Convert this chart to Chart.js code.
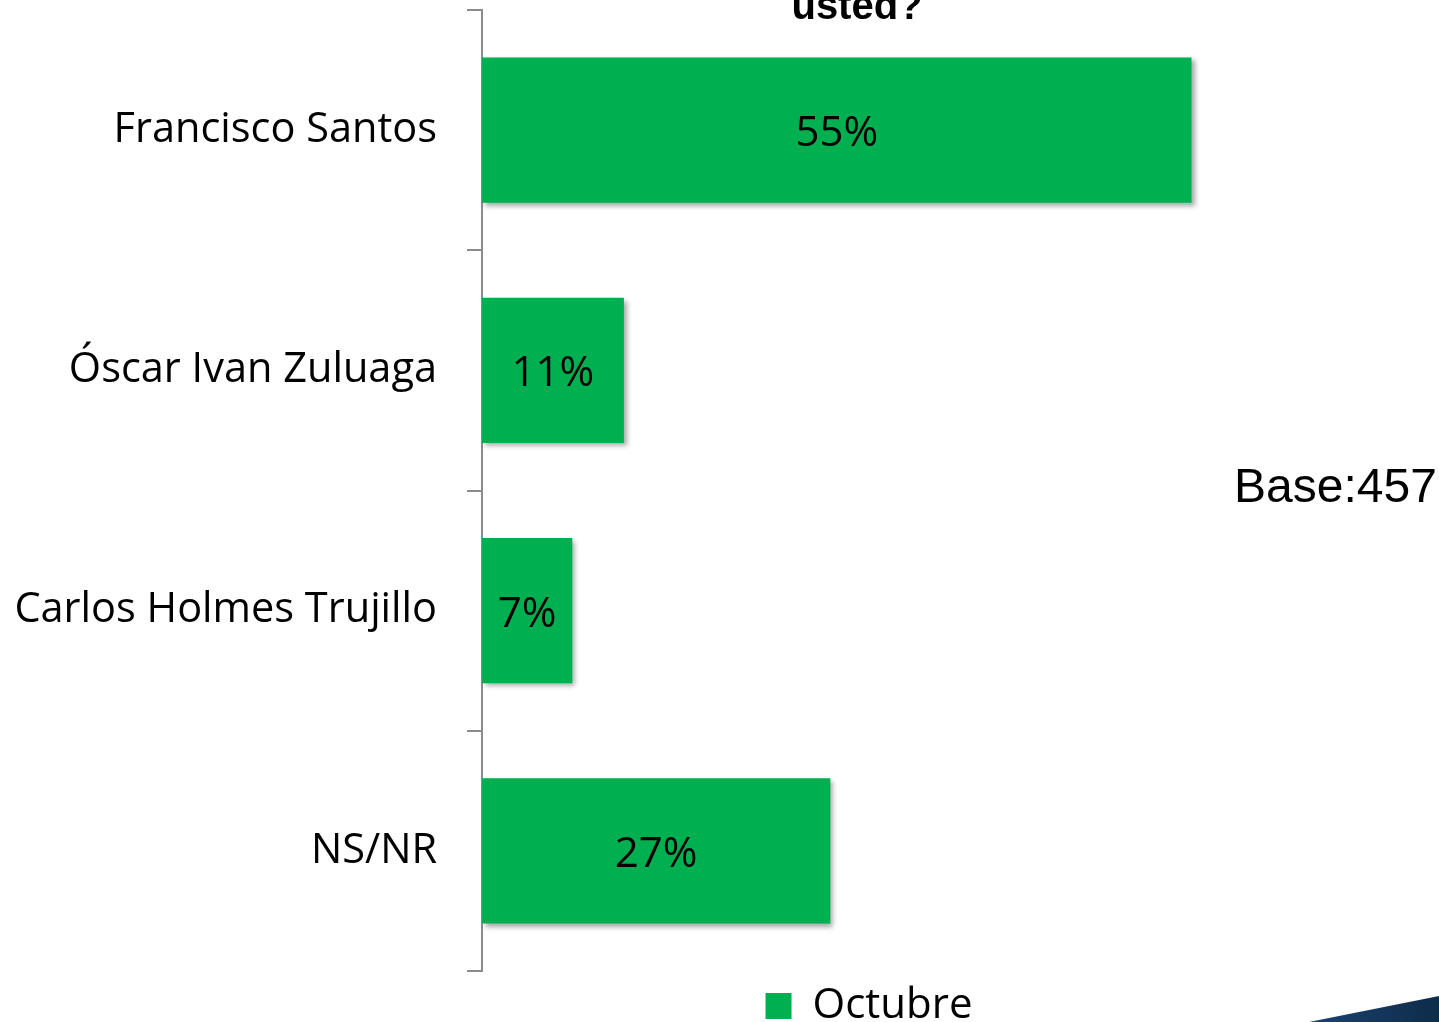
<!DOCTYPE html>
<html>
<head>
<meta charset="utf-8">
<script src="https://cdn.jsdelivr.net/npm/chart.js@4/dist/chart.umd.min.js"></script>
<style>
  html, body { margin: 0; padding: 0; background: #fff; }
  #wrap { width: 1439px; height: 1022px; position: relative; }
</style>
</head>
<body>
<div id="wrap"><canvas id="chart"></canvas></div>
<script>
// chart data
const categories = ['Francisco Santos', 'Óscar Ivan Zuluaga', 'Carlos Holmes Trujillo', 'NS/NR'];
const octubre = [55, 11, 7, 27];
const seriesName = 'Octubre';
const titleText = 'usted?';
const baseText = 'Base:457';

const GREEN = '#00b050';
const LABEL_FONT = '"Open Sans", sans-serif';

// soft shadow under the bars
const barShadow = {
    id: 'barShadow',
    beforeDatasetsDraw(chart) {
        const ctx = chart.ctx;
        ctx.save();
        ctx.shadowColor = 'rgba(0,0,0,0.35)';
        ctx.shadowBlur = 5;
        ctx.shadowOffsetX = 3;
        ctx.shadowOffsetY = 3;
    },
    afterDatasetsDraw(chart) {
        chart.ctx.restore();
    }
};

// values inside the bars, title, base note and corner wedge
const extras = {
    id: 'extras',
    afterDatasetsDraw(chart) {
        const ctx = chart.ctx;
        const meta = chart.getDatasetMeta(0);
        ctx.save();
        ctx.fillStyle = '#000';
        ctx.font = '42px ' + LABEL_FONT;
        ctx.textAlign = 'center';
        ctx.textBaseline = 'middle';
        meta.data.forEach(function (bar, i) {
            const x = (bar.base + bar.x) / 2;
            ctx.fillText(octubre[i] + '%', x, bar.y + 4);
        });

        ctx.font = 'bold 40px "Liberation Sans", Arial, sans-serif';
        ctx.textBaseline = 'alphabetic';
        ctx.fillText(titleText, 857, 19);

        ctx.font = '48px "Liberation Sans", Arial, sans-serif';
        ctx.textAlign = 'left';
        ctx.fillText(baseText, 1234, 502);

        const w = chart.width, h = chart.height;
        const grad = ctx.createLinearGradient(w - 130, 0, w, 0);
        grad.addColorStop(0, '#1a4270');
        grad.addColorStop(1, '#0e2c4a');
        ctx.fillStyle = grad;
        ctx.beginPath();
        ctx.moveTo(w - 130, h);
        ctx.lineTo(w, h - 26);
        ctx.lineTo(w, h);
        ctx.closePath();
        ctx.fill();
        ctx.restore();
    }
};

new Chart(document.getElementById('chart'), {
    type: 'bar',
    data: {
        labels: categories,
        datasets: [{
            label: seriesName,
            data: octubre,
            backgroundColor: GREEN,
            borderWidth: 0,
            categoryPercentage: 1,
            barPercentage: 0.605
        }]
    },
    options: {
        indexAxis: 'y',
        responsive: true,
        maintainAspectRatio: false,
        animation: false,
        layout: {
            padding: { left: 0, right: 183, top: 10, bottom: -15 }
        },
        plugins: {
            legend: {
                position: 'bottom',
                fullSize: false,
                labels: {
                    boxWidth: 26,
                    boxHeight: 26,
                    padding: 14,
                    color: '#000',
                    font: { family: LABEL_FONT, size: 42 }
                }
            },
            title: { display: false },
            tooltip: { enabled: false }
        },
        scales: {
            x: {
                display: false,
                min: 0,
                max: 60
            },
            y: {
                afterFit: function (scale) {
                    scale.width = 482;
                    scale.paddingTop = 0;
                    scale.paddingBottom = 0;
                },
                border: { display: true, color: '#8c8c8c', width: 2 },
                grid: {
                    drawOnChartArea: false,
                    drawTicks: true,
                    tickLength: 15,
                    color: '#8c8c8c',
                    lineWidth: 2
                },
                ticks: {
                    padding: 30,
                    color: '#000',
                    font: { family: LABEL_FONT, size: 41.5 }
                }
            }
        }
    },
    plugins: [barShadow, extras]
});
</script>
</body>
</html>
